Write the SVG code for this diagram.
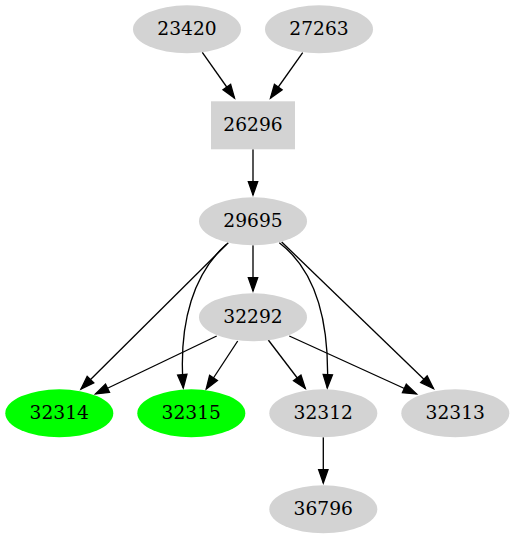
<svg xmlns="http://www.w3.org/2000/svg" width="514" height="539" viewBox="0 0 514 539">
<style>
.n ellipse, .n rect { fill: #d3d3d3; stroke: none; }
.n.g ellipse { fill: #00ff00; }
.n text { font-family: "DejaVu Serif", "Liberation Serif", serif; font-size: 18.67px; text-anchor: middle; fill: #000; }
.e path { fill: none; stroke: #000; stroke-width: 1.33; marker-end: url(#ah); }
</style>
<defs>
<marker id="ah" markerUnits="userSpaceOnUse" markerWidth="16" markerHeight="12" refX="13.33" refY="4.67" orient="auto" overflow="visible">
<path d="M0,0 L13.33,4.67 L0,9.33 z" fill="#000" stroke="#000" stroke-width="1.33"/>
</marker>
</defs>
<rect width="514" height="539" fill="#fff"/>
<g id="edges" class="e">
<path d="M202.3,52.3 L234.5,98"/>
<path d="M302.7,52.7 L270.5,98"/>
<path d="M253,149.3 L253,195"/>
<path d="M253,245.3 L253,291"/>
<path d="M228.3,242.7 L81,389"/>
<path d="M226.7,244 C195,272 178,320 183.3,388"/>
<path d="M279.3,242.7 C315,270 330,320 327.3,388"/>
<path d="M281.7,242 L433.5,388.5"/>
<path d="M216.7,336 L95.5,394"/>
<path d="M237.7,341 L206.2,389"/>
<path d="M268.3,340 L305.3,388.5"/>
<path d="M289.3,336 L416.5,394"/>
<path d="M323.3,437.3 L323.3,483"/>
</g>
<g id="n23420" class="n"><ellipse cx="187" cy="29.3" rx="54" ry="24"/><text x="187" y="34.5">23420</text></g>
<g id="n27263" class="n"><ellipse cx="319" cy="29.3" rx="54" ry="24"/><text x="319" y="34.5">27263</text></g>
<g id="n26296" class="n"><rect x="211" y="101.3" width="84" height="48"/><text x="253" y="130.5">26296</text></g>
<g id="n29695" class="n"><ellipse cx="253" cy="221.3" rx="54" ry="24"/><text x="253" y="226.5">29695</text></g>
<g id="n32292" class="n"><ellipse cx="253" cy="317.3" rx="54" ry="24"/><text x="253" y="322.5">32292</text></g>
<g id="n32314" class="n g"><ellipse cx="59.3" cy="413.3" rx="54" ry="24"/><text x="59.3" y="418.5">32314</text></g>
<g id="n32315" class="n g"><ellipse cx="191.3" cy="413.3" rx="54" ry="24"/><text x="191.3" y="418.5">32315</text></g>
<g id="n32312" class="n"><ellipse cx="323.3" cy="413.3" rx="54" ry="24"/><text x="323.3" y="418.5">32312</text></g>
<g id="n32313" class="n"><ellipse cx="455.3" cy="413.3" rx="54" ry="24"/><text x="455.3" y="418.5">32313</text></g>
<g id="n36796" class="n"><ellipse cx="323.3" cy="509.3" rx="54" ry="24"/><text x="323.3" y="514.5">36796</text></g>
</svg>
